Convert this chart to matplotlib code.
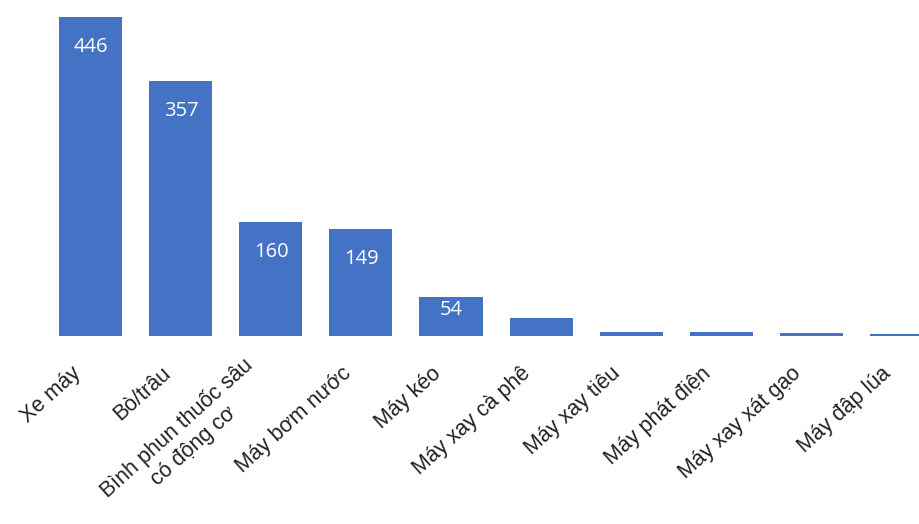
import numpy as np
import matplotlib
matplotlib.use('Agg')
import matplotlib.pyplot as plt
import matplotlib.transforms as mtransforms

# dữ liệu
categories = ['Xe máy', 'Bò/trâu', 'Bình phun thuốc sâu\ncó động cơ', 'Máy bơm nước',
              'Máy kéo', 'Máy xay cà phê', 'Máy xay tiêu', 'Máy phát điện',
              'Máy xay xát gạo', 'Máy đập lúa']
values = [446, 357, 160, 149, 54, 25, 6, 5, 4, 3]

bar_color = '#4472C4'

fig = plt.figure(figsize=(9.2, 5.24), dpi=100)
ax = fig.add_axes([0, 0.3588, 1, 0.6412])

x = np.arange(len(categories))
bars = ax.bar(x, values, width=0.7, color=bar_color, zorder=2)

ax.set_xlim(-1.011, 9.211)
ax.set_ylim(0, 470)

# nhãn giá trị bên trong thanh
px_per_unit = ax.bbox.height / 470
for xi, v in zip(x, values):
    if v < 40:
        continue
    h_px = v * px_per_unit
    off = min(30, h_px * 0.33)
    ax.annotate(str(v), (xi, v), xytext=(0, -off * 72 / fig.dpi), textcoords='offset points',
                ha='center', va='center', color='white', fontsize=14.5, family='Open Sans')

ax.set_xticks(x)
ax.set_xticklabels(categories, rotation=42, ha='right', va='center', rotation_mode='anchor',
                   fontsize=15.5, family='Liberation Sans', color='#222222', multialignment='center')
ax.tick_params(axis='x', length=0, pad=25)
shift = mtransforms.ScaledTranslation(-13 / 100, 0, fig.dpi_scale_trans)
for lbl in ax.get_xticklabels():
    lbl.set_transform(lbl.get_transform() + shift)
ax.set_yticks([])
for s in ax.spines.values():
    s.set_visible(False)

fig.savefig('out.png', dpi=100)
